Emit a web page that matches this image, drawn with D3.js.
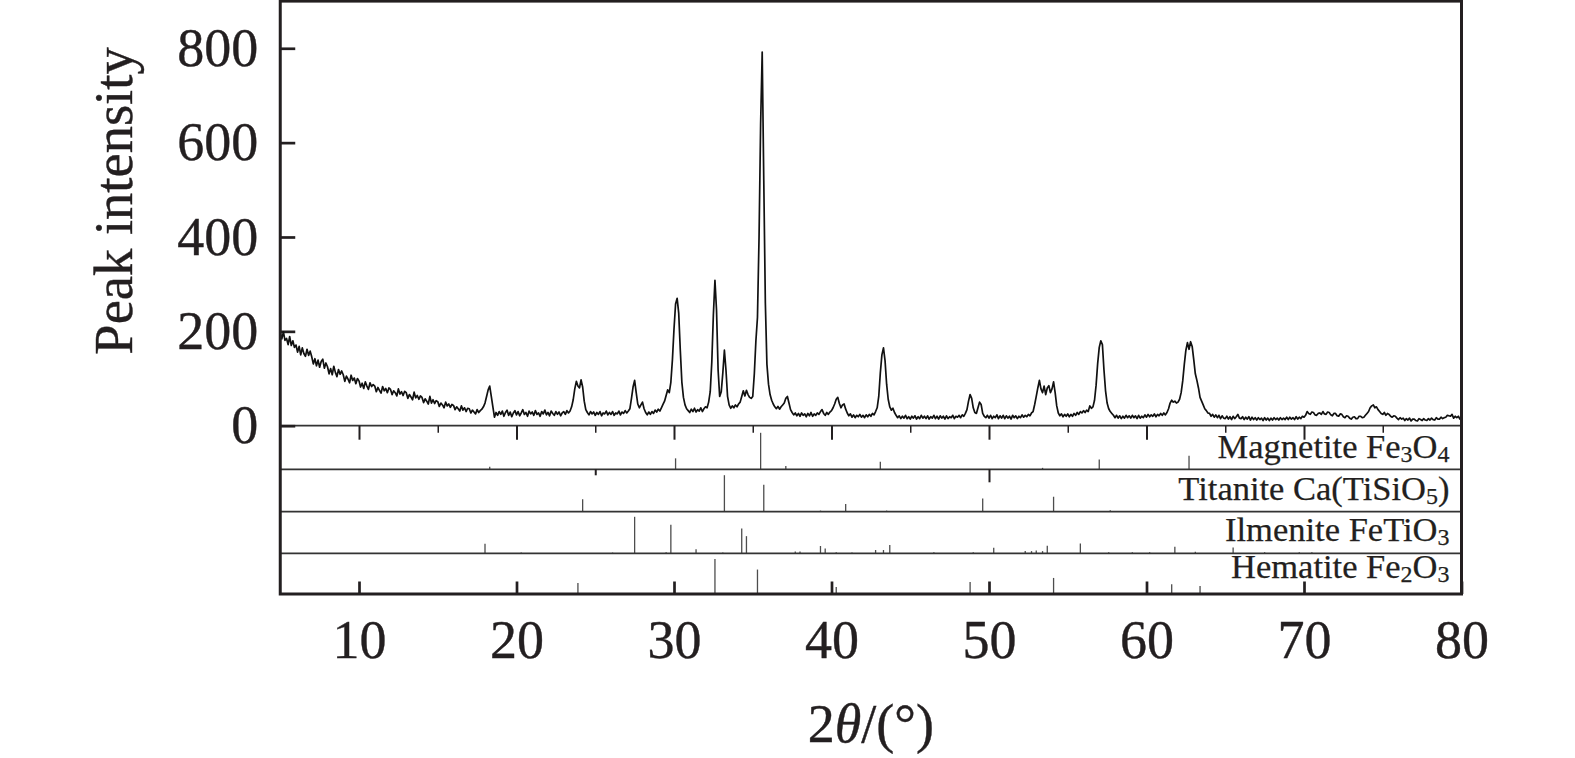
<!DOCTYPE html>
<html>
<head>
<meta charset="utf-8">
<script src="https://cdn.jsdelivr.net/npm/d3@7"></script>
<style>
  body { margin: 0; background: #fff; }
  svg { display: block; }
</style>
</head>
<body>
<svg id="chart" width="1575" height="758"></svg>
<script>
const scanStart = 5.0;
const scanStep = 0.1;
const scanCounts = [
  196,184,199,181,185,172,189,170,180,166,   // 5
  171,156,168,150,165,153,147,162,149,158,   // 6
  146,131,142,127,139,124,136,141,122,133,   // 7
  125,110,121,108,126,113,104,119,109,116,   // 8
  108,94,105,99,91,107,96,101,89,100,        // 9
  95,82,90,79,93,84,77,91,83,87,             // 10
  84,72,81,75,69,83,74,79,70,80,             // 11
  77,66,74,70,63,78,67,72,64,73,             // 12
  70,58,66,61,55,71,59,64,56,63,             // 13
  60,49,57,52,46,62,48,55,47,53,             // 14
  51,41,48,44,38,50,42,46,39,45,             // 15
  43,34,40,36,31,42,33,38,30,37,             // 16
  36,27,33,29,25,34,28,32,35,40,             // 17
  48,62,76,84,62,40,18,28,22,30,             // 18
  24,31,20,28,33,22,29,19,27,32,             // 19
  23,30,21,27,34,24,28,20,31,25,             // 20
  29,22,32,24,27,20,30,25,33,23,             // 21
  28,21,31,26,22,30,24,29,21,27,             // 22
  30,24,32,27,31,40,55,78,94,84,             // 23
  80,97,82,52,34,28,23,30,25,29,             // 24
  22,28,24,30,21,27,25,31,23,28,             // 25
  24,30,22,27,25,31,23,29,26,32,             // 26
  27,31,36,58,82,96,70,46,38,44,             // 27
  50,36,28,23,29,24,30,26,33,29,             // 28
  35,31,38,45,52,64,76,70,92,140,            // 29
  205,258,270,238,160,92,60,44,36,32,        // 30
  28,35,30,37,29,34,31,38,30,36,             // 31
  40,38,50,72,135,235,308,245,118,62,        // 32
  72,112,160,118,62,44,37,42,38,44,          // 33
  40,46,50,62,74,63,75,66,60,58,             // 34
  62,110,180,230,400,640,792,520,260,130,    // 35
  88,66,54,46,40,36,41,35,40,44,             // 36
  48,58,62,48,34,28,23,27,21,26,             // 37
  20,27,22,25,19,26,21,28,20,25,             // 38
  22,27,24,30,34,26,22,28,24,29,             // 39
  32,38,46,56,60,47,38,44,46,35,             // 40
  27,21,25,18,23,17,22,19,24,18,             // 41
  22,17,23,19,24,20,26,23,30,38,             // 42
  62,112,150,165,138,88,56,40,33,37,         // 43
  28,22,17,21,15,20,16,22,15,19,             // 44
  14,20,16,21,14,19,15,22,16,20,             // 45
  15,21,14,19,16,22,15,20,14,21,             // 46
  16,20,14,21,15,19,17,22,15,20,             // 47
  18,22,17,23,20,26,34,52,66,58,             // 48
  38,28,26,38,50,45,26,20,17,22,             // 49
  16,22,15,20,17,23,15,21,16,22,             // 50
  15,21,16,20,14,22,17,21,15,20,             // 51
  17,23,18,22,19,24,21,27,30,45,             // 52
  62,80,96,78,70,84,66,80,85,70,             // 53
  78,93,70,42,27,21,25,19,24,20,             // 54
  25,19,24,20,26,22,28,24,30,27,             // 55
  32,28,33,30,42,37,40,54,86,132,            // 56
  166,180,172,118,74,48,36,30,26,22,         // 57
  17,22,16,21,15,20,16,22,17,21,             // 58
  16,22,17,21,15,22,16,20,17,23,             // 59
  18,24,19,23,20,25,19,24,21,26,             // 60
  22,27,23,28,36,48,54,50,52,48,             // 61
  50,56,70,95,130,160,176,162,178,168,       // 62
  140,110,96,80,60,52,44,36,32,27,           // 63
  26,20,24,18,23,17,22,15,21,16,             // 64
  15,20,14,19,13,20,15,19,24,16,             // 65
  15,19,13,18,14,19,12,18,13,17,             // 66
  12,17,13,16,11,17,12,16,11,16,             // 67
  12,17,13,16,12,17,13,16,13,18,             // 68
  13,18,14,17,13,19,14,18,15,20,             // 69
  18,22,30,26,24,29,28,23,22,26,             // 70
  27,24,30,25,24,29,28,23,21,26,             // 71
  26,21,20,25,24,19,17,21,20,16,             // 72
  14,18,19,15,15,20,20,17,18,22,             // 73
  26,30,38,42,44,38,40,34,30,26,             // 74
  24,28,22,26,24,20,18,21,20,16,             // 75
  13,17,14,16,11,15,12,16,10,14,             // 76
  14,11,10,15,13,11,15,12,11,15,             // 77
  12,16,13,12,17,14,14,18,15,17,             // 78
  18,22,21,20,24,16,20,17,20,14,             // 79
  15                                         // 80
];

// reference stick patterns: [2theta, relative intensity]
const magnetiteSticks = [[18.3,7],[30.1,30],[35.5,100],[37.1,9],[43.1,21],[53.4,4],[57.0,27],[62.7,37]];
const titaniteSticks = [[24.2,34],[33.2,100],[35.7,74],[39.3,3],[40.9,21],[43.5,3],[49.6,36],[54.1,41],[57.7,4]];
const ilmeniteSticks = [
  [18.0,26],[20.3,2],[26.1,2],[27.5,100],[29.5,3],[29.8,78],[31.4,11],[33.1,2],[34.3,68],[34.6,47],
  [37.7,5],[38.0,5],[39.3,20],[39.6,13],[40.3,3],[41.3,2],[42.8,9],[43.3,9],[43.7,23],[46.5,3],
  [49.0,3],[50.3,15],[52.3,6],[52.7,6],[53.0,8],[53.4,6],[53.7,21],[55.8,27],[57.6,3],[59.1,3],
  [60.2,3],[61.8,18],[63.1,4],[65.5,16],[67.5,3],[69.7,3],[70.5,3]
];
const hematiteSticks = [[23.9,30],[32.6,96],[35.3,67],[40.3,19],[48.8,33],[54.1,44],[61.6,27],[63.4,22]];

const phaseSticks = [magnetiteSticks, titaniteSticks, ilmeniteSticks, hematiteSticks];
// label parts: [text, isSubscript]
const phaseLabels = [
  [["Magnetite Fe", 0], ["3", 1], ["O", 0], ["4", 1]],
  [["Titanite Ca(TiSiO", 0], ["5", 1], [")", 0]],
  [["Ilmenite FeTiO", 0], ["3", 1]],
  [["Hematite Fe", 0], ["2", 1], ["O", 0], ["3", 1]]
];

const yTicks = [0, 200, 400, 600, 800];
const xTicks = [10, 20, 30, 40, 50, 60, 70, 80];
const xMajorTop = [10, 20, 30, 40, 50, 60, 70];
const xMinorTop = [15, 25, 35, 45, 55, 65, 75];
const titaniteEdgeTicks = [25, 50];

// layout
const plotLeft = 280.25, plotRight = 1461.5, plotTop = 1.1, zeroY = 425.7;
const panelEdges = [425.7, 469.3, 511.7, 553.3, 594];
const labelOffsets = [11, 11.7, 12.6, 15.7];
const ink = "#231f20";
const serif = "'Liberation Serif', 'Times New Roman', serif";

const svg = d3.select("#chart");
svg.append("rect").attr("width", 1575).attr("height", 758).attr("fill", "#fff");

const x = d3.scaleLinear().domain([5, 80]).range([plotLeft, plotRight]);
const y = d3.scaleLinear().domain([0, 900]).range([zeroY, plotTop]);
const stickH = d3.scaleLinear().domain([0, 100]).range([0, 36.5]);

// reference sticks
phaseSticks.forEach((sticks, i) => {
  const base = panelEdges[i + 1];
  svg.append("g")
    .selectAll("line")
    .data(sticks)
    .join("line")
      .attr("x1", d => x(d[0]))
      .attr("x2", d => x(d[0]))
      .attr("y1", base)
      .attr("y2", d => base - stickH(d[1]))
      .attr("stroke", "#4d4d4d")
      .attr("stroke-width", 1.3);
});

// panel separators
svg.append("g")
  .selectAll("line")
  .data(panelEdges.slice(0, 4))
  .join("line")
    .attr("x1", plotLeft).attr("x2", plotRight)
    .attr("y1", d => d).attr("y2", d => d)
    .attr("stroke", "#333")
    .attr("stroke-width", 1.8);

function styleAxis(g, width) {
  g.select(".domain").remove();
  g.attr("color", ink).attr("font-family", serif).attr("font-size", 54);
  g.selectAll("line").attr("stroke-width", width);
  g.selectAll("text").attr("stroke", ink).attr("stroke-width", 0.4);
}

// ticks along the zero line
svg.append("g")
  .attr("transform", `translate(0,${zeroY})`)
  .call(d3.axisBottom(x).tickValues(xMajorTop).tickSize(14).tickFormat(""))
  .call(g => styleAxis(g, 2));
svg.append("g")
  .attr("transform", `translate(0,${zeroY})`)
  .call(d3.axisBottom(x).tickValues(xMinorTop).tickSize(7).tickFormat(""))
  .call(g => styleAxis(g, 1.5));

// stray ticks on titanite top edge
svg.append("g")
  .attr("transform", `translate(0,${panelEdges[1]})`)
  .call(d3.axisBottom(x).tickValues(titaniteEdgeTicks).tickSize(13).tickFormat(""))
  .call(g => styleAxis(g, 2))
  .call(g => g.selectAll(".tick line").attr("y2", d => d === 25 ? 6 : 13));

// y axis
svg.append("g")
  .attr("transform", `translate(${plotLeft},0)`)
  .call(d3.axisLeft(y).tickValues(yTicks).tickSizeInner(-15).tickSizeOuter(0).tickPadding(22))
  .call(g => styleAxis(g, 2.7));

// bottom x axis
svg.append("g")
  .attr("transform", `translate(0,${panelEdges[4]})`)
  .call(d3.axisBottom(x).tickValues(xTicks).tickSizeInner(-12.5).tickSizeOuter(0).tickPadding(25.7))
  .call(g => styleAxis(g, 2.7));

// scan trace
const scanPoints = scanCounts.map((c, i) => [scanStart + i * scanStep, c]);
const line = d3.line().x(d => x(d[0])).y(d => y(d[1]));
svg.append("path")
  .datum(scanPoints)
  .attr("d", line)
  .attr("fill", "none")
  .attr("stroke", "#111")
  .attr("stroke-width", 1.7)
  .attr("stroke-linejoin", "round");

// frame
svg.append("rect")
  .attr("x", plotLeft).attr("y", plotTop)
  .attr("width", plotRight - plotLeft).attr("height", panelEdges[4] - plotTop)
  .attr("fill", "none")
  .attr("stroke", ink)
  .attr("stroke-width", 3);

// phase labels
phaseLabels.forEach((parts, i) => {
  const t = svg.append("text")
    .attr("x", 1449.5)
    .attr("y", panelEdges[i + 1] - labelOffsets[i])
    .attr("text-anchor", "end")
    .attr("font-family", serif)
    .attr("font-size", 34.5)
    .attr("fill", ink)
    .attr("stroke", ink)
    .attr("stroke-width", 0.25);
  let shifted = false;
  parts.forEach(([txt, sub]) => {
    const s = t.append("tspan").text(txt);
    if (sub && !shifted) { s.attr("font-size", 24).attr("dy", 4); shifted = true; }
    else if (!sub && shifted) { s.attr("dy", -4); shifted = false; }
  });
});

// axis titles
const xt = svg.append("text")
  .attr("x", (plotLeft + plotRight) / 2)
  .attr("y", 741.7)
  .attr("text-anchor", "middle")
  .attr("font-family", serif)
  .attr("font-size", 54)
  .attr("fill", ink)
  .attr("stroke", ink)
  .attr("stroke-width", 0.4);
xt.append("tspan").text("2");
xt.append("tspan").attr("font-style", "italic").text("θ");
xt.append("tspan").text("/(°)");

svg.append("text")
  .attr("transform", "translate(132,201) rotate(-90)")
  .attr("text-anchor", "middle")
  .attr("font-family", serif)
  .attr("font-size", 54.5)
  .attr("fill", ink)
  .attr("stroke", ink)
  .attr("stroke-width", 0.4)
  .text("Peak intensity");
</script>
</body>
</html>
